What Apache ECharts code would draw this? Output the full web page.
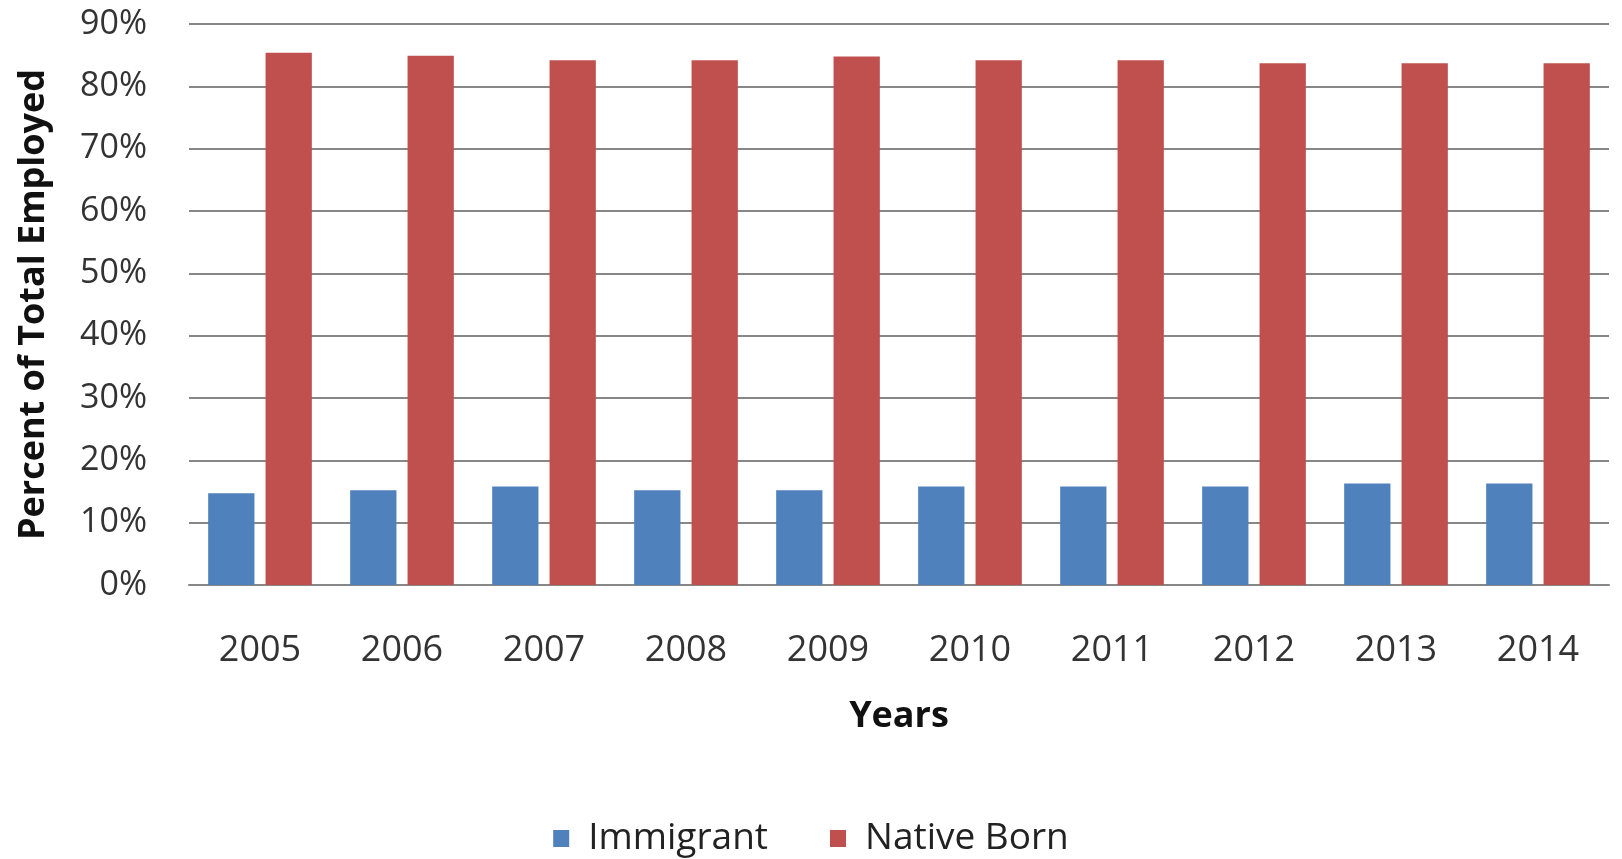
<!DOCTYPE html>
<html>
<head>
<meta charset="utf-8">
<script src="https://cdn.jsdelivr.net/npm/echarts@6/dist/echarts.min.js"></script>
<style>
html,body{margin:0;padding:0;background:#fff;}
#chart{width:1622px;height:859px;}
</style>
</head>
<body>
<div id="chart"></div>
<script>
const years = ['2005','2006','2007','2008','2009','2010','2011','2012','2013','2014'];
const immigrant = [14.7, 15.2, 15.8, 15.2, 15.2, 15.8, 15.8, 15.8, 16.3, 16.3];
const nativeBorn = [85.4, 84.9, 84.2, 84.2, 84.8, 84.2, 84.2, 83.7, 83.7, 83.7];
const seriesNames = ['Immigrant', 'Native Born'];
const yTitle = 'Percent of Total Employed';
const xTitle = 'Years';

const chart = echarts.init(document.getElementById('chart'));
const font = '"Open Sans", Lato, sans-serif';
chart.setOption({
  animation: false,
  backgroundColor: '#ffffff',
  textStyle: { fontFamily: font },
  grid: { left: 189, right: 13, top: 24, bottom: 274 },
  legend: {
    data: seriesNames,
    left: 'center',
    top: 815,
    icon: 'rect',
    itemWidth: 16,
    itemHeight: 17,
    itemGap: 62,
    textStyle: { fontSize: 37, color: '#222', fontFamily: font, padding: [0,0,0,14] }
  },
  xAxis: {
    type: 'category',
    data: years,
    name: xTitle,
    nameLocation: 'middle',
    nameGap: 114,
    nameTextStyle: { fontSize: 36, fontWeight: 'bold', color: '#111', fontFamily: font },
    axisLine: { show: true, lineStyle: { color: '#878787', width: 2 } },
    axisTick: { show: false },
    axisLabel: { fontSize: 36, color: '#333', margin: 48, fontFamily: font }
  },
  yAxis: {
    type: 'value',
    min: 0,
    max: 90,
    interval: 10,
    name: yTitle,
    nameLocation: 'middle',
    nameGap: 137,
    nameTextStyle: { fontSize: 36, fontWeight: 'bold', color: '#111', fontFamily: font },
    axisLine: { show: false },
    axisTick: { show: false },
    axisLabel: { formatter: '{value}%', fontSize: 34, color: '#333', margin: 42, fontFamily: font },
    splitLine: { lineStyle: { color: '#878787', width: 2 } }
  },
  series: [
    {
      name: seriesNames[0],
      type: 'bar',
      data: immigrant,
      itemStyle: { color: '#4F81BD' },
      barGap: '24%',
      barCategoryGap: '27%'
    },
    {
      name: seriesNames[1],
      type: 'bar',
      data: nativeBorn,
      itemStyle: { color: '#C0504D' },
      barGap: '24%',
      barCategoryGap: '27%'
    }
  ]
});
</script>
</body>
</html>
